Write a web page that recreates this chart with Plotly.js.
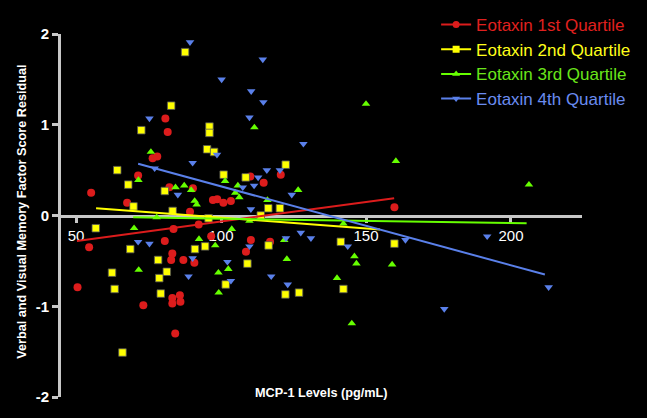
<!DOCTYPE html>
<html><head><meta charset="utf-8">
<script src="https://cdn.plot.ly/plotly-3.0.1.min.js"></script>
<style>html,body{margin:0;padding:0;background:#000;}#chart{width:647px;height:418px;}</style>
</head><body><div id="chart"></div>
<script>
const seriesNames = ['Eotaxin 1st Quartile', 'Eotaxin 2nd Quartile', 'Eotaxin 3rd Quartile', 'Eotaxin 4th Quartile'];
const seriesColors = ['#dc1c1c', '#ffff00', '#66ff00', '#5a80ea'];
const textColors = ['#e0201f', '#ffff1a', '#6ae61a', '#6a8cf0'];
const seriesSymbols = ['circle', 'square', 'triangle-up', 'triangle-down'];

const q1X = [55.2, 54.5, 50.5, 73.2, 67.6, 71.4, 80.8, 81.6, 76.4, 78.0, 82.2, 90.3, 97.2, 98.7, 100.8, 103.4, 89.3, 83.6, 92.3, 80.6, 96.6, 83.2, 82.8, 87.0, 90.8, 83.2, 85.8, 83.2, 86.0, 84.2, 110.1, 120.6, 114.7, 110.3, 116.9, 108.6, 159.8];
const q1Y = [0.25, -0.35, -0.79, -0.99, 0.14, 0.44, 1.07, 0.92, 0.63, 0.65, 0.31, 0.30, 0.17, 0.18, 0.14, 0.16, 0.04, -0.15, -0.10, -0.28, -0.23, -0.42, -0.49, -0.49, -0.52, -0.91, -0.88, -0.97, -0.95, -1.30, 0.43, 0.45, 0.36, -0.27, -0.29, -0.40, 0.09];

const q2X = [87.6, 82.8, 72.5, 64.2, 68.0, 80.6, 69.8, 83.3, 56.8, 68.7, 91.0, 78.3, 62.4, 81.3, 78.7, 63.3, 79.2, 66.0, 96.0, 96.0, 95.2, 97.6, 100.9, 122.3, 108.5, 95.7, 113.7, 116.3, 120.3, 94.5, 116.4, 109.1, 101.6, 122.2, 126.9, 141.3, 159.8, 142.2];
const q2Y = [1.80, 1.21, 0.94, 0.50, 0.34, 0.27, 0.10, 0.05, -0.14, -0.37, -0.37, -0.49, -0.63, -0.62, -0.69, -0.81, -0.86, -1.51, 0.98, 0.91, 0.73, 0.70, 0.45, 0.56, 0.42, -0.03, 0.00, 0.08, 0.08, -0.34, -0.33, -0.53, -0.76, -0.87, -0.85, -0.29, -0.31, -0.81];

const q3X = [75.8, 71.5, 84.3, 87.3, 89.7, 90.9, 91.6, 77.8, 70.0, 92.4, 71.6, 99.1, 102.5, 99.2, 98.0, 103.7, 105.8, 104.9, 106.3, 101.4, 126.6, 116.0, 109.8, 121.8, 122.7, 142.2, 146.0, 146.7, 140.0, 159.0, 145.1, 111.5, 150.0, 160.3, 206.2];
const q3Y = [0.70, 0.39, 0.31, 0.33, 0.28, 0.16, 0.12, -0.02, -0.14, -0.26, -0.60, -0.63, -0.59, -0.85, -0.33, -0.15, 0.33, 0.25, 0.20, 0.38, 0.28, 0.17, -0.06, -0.27, -0.48, -0.09, -0.45, -0.53, -0.69, -0.54, -1.19, 0.97, 1.23, 0.60, 0.34];

const q4X = [89.3, 100.2, 75.3, 90.2, 77.1, 98.6, 114.4, 110.4, 114.6, 109.8, 128.4, 115.8, 120.3, 112.8, 107.5, 111.4, 124.4, 110.3, 127.5, 131.0, 122.4, 109.8, 143.7, 102.2, 103.4, 117.3, 123.0, 85.1, 71.4, 75.3, 90.2, 88.8, 163.6, 191.8, 213.0, 177.0];
const q4Y = [1.91, 1.50, 1.07, 0.58, 0.52, 0.67, 1.72, 1.37, 1.25, 1.08, 0.79, 0.50, 0.50, 0.42, 0.31, 0.33, 0.23, 0.07, -0.19, -0.25, -0.25, -0.34, -0.34, -0.51, -0.72, -0.67, -0.76, 0.23, -0.29, -0.31, -0.47, -0.67, -0.27, -0.23, -0.79, -1.03];

const fit1X = [50.3, 159.7], fit1Y = [-0.28, 0.19];
const fit2X = [56.9, 154.8], fit2Y = [0.08, -0.155];
const fit3X = [69.7, 205.4], fit3Y = [-0.02, -0.085];
const fit4X = [71.4, 211.7], fit4Y = [0.57, -0.65];

const xTicks = [50, 100, 150, 200];
const yTicks = [-2, -1, 0, 1, 2];
const yTickText = ['-2', '-1', '0', '1', '2'];

const dataX = [q1X, q2X, q3X, q4X];
const dataY = [q1Y, q2Y, q3Y, q4Y];
const fitX = [fit1X, fit2X, fit3X, fit4X];
const fitY = [fit1Y, fit2Y, fit3Y, fit4Y];
const markerSizes = [8, 7.5, 7.5, 7.5];

const traces = [];
for (let i = 0; i < 4; i++) {
  traces.push({
    type: 'scatter', mode: 'markers', x: dataX[i], y: dataY[i], showlegend: false,
    marker: {symbol: seriesSymbols[i], size: markerSizes[i], color: seriesColors[i],
      line: {width: i === 1 ? 0.8 : 0, color: '#555'}},
    hoverinfo: 'x+y'
  });
}
for (let i = 0; i < 4; i++) {
  traces.push({
    type: 'scatter', mode: 'lines', x: fitX[i], y: fitY[i], showlegend: false,
    line: {color: seriesColors[i], width: 2}, hoverinfo: 'skip'
  });
}
for (let i = 0; i < 4; i++) {
  traces.push({
    type: 'scatter', mode: 'lines+markers', x: [null], y: [null],
    name: '<span style="color:' + textColors[i] + ';font-size:17px">' + seriesNames[i] + '</span>',
    marker: {symbol: seriesSymbols[i], size: 7, color: seriesColors[i]},
    line: {color: seriesColors[i], width: 2}
  });
}

const FONT = 'Liberation Sans, Arial, sans-serif';
const axisGrey = '#c8c8c8';
const layout = {
  width: 647, height: 418,
  paper_bgcolor: '#000', plot_bgcolor: '#000',
  margin: {l: 61, r: 65, t: 34, b: 21, pad: 0, autoexpand: false},
  font: {family: FONT, color: '#fff'},
  showlegend: true,
  legend: {x: 0.720, y: 1.074, xanchor: 'left', yanchor: 'top', bgcolor: 'rgba(0,0,0,0)',
    font: {size: 16.7, family: FONT, color: '#fff'}, itemwidth: 30},
  xaxis: {
    range: [44.8, 224.5], anchor: 'free', position: 0.5,
    showline: true, linecolor: axisGrey, linewidth: 3,
    ticks: 'outside', ticklen: 5, tickwidth: 3, tickcolor: axisGrey,
    tickvals: xTicks, tickfont: {size: 15, color: '#fff', family: FONT},
    showgrid: false, zeroline: false, layer: 'below traces', automargin: false
  },
  yaxis: {
    range: [-2, 2], showline: true, linecolor: axisGrey, linewidth: 3,
    ticks: 'outside', ticklen: 6, tickwidth: 3, tickcolor: axisGrey,
    tickvals: yTicks, ticktext: yTickText,
    tickfont: {size: 15, color: '#fff', family: FONT, weight: 'bold'},
    showgrid: false, zeroline: false, layer: 'below traces', automargin: false
  },
  annotations: [
    {text: 'Verbal and Visual Memory Factor Score Residual', xref: 'paper', yref: 'paper',
     x: -0.0754, y: 0.512, xanchor: 'center', yanchor: 'middle', textangle: -90, showarrow: false,
     font: {size: 12.7, color: '#fff', family: FONT, weight: 'bold'}},
    {text: 'MCP-1 Levels (pg/mL)', xref: 'paper', yref: 'paper',
     x: 0.5, y: 0.011, xanchor: 'center', yanchor: 'middle', showarrow: false,
     font: {size: 12.7, color: '#fff', family: FONT, weight: 'bold'}}
  ]
};
Plotly.newPlot('chart', traces, layout, {displayModeBar: false, staticPlot: true});
</script></body></html>
